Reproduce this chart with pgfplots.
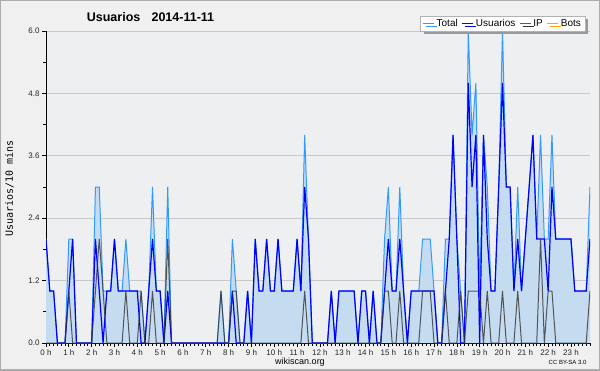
\documentclass[border=0pt]{standalone}
\usepackage{fontspec}
\setmainfont{Liberation Sans}
\setmonofont{DejaVu Sans Mono}
\usepackage{pgfplots}
\usepackage{pgfplotstable}
\pgfplotsset{compat=1.18}
\usetikzlibrary{shadows}
\definecolor{outerbg}{HTML}{F0F0F0}
\definecolor{plotbg}{HTML}{EDEFF1}
\definecolor{totline}{HTML}{3399FF}
\definecolor{totfill}{HTML}{C5DCF0}
\definecolor{usr}{HTML}{0000FF}
\definecolor{ipc}{HTML}{333333}
\definecolor{bots}{HTML}{FFA500}
\definecolor{gridc}{HTML}{C8C8C8}

\pgfplotstableread{
i T U IP
0 2 2 0
1 1 1 0
2 1 1 0
3 0 0 0
4 0 0 0
5 0 0 0
6 2 1 1
7 2 2 0
8 0 0 0
9 0 0 0
10 0 0 0
11 0 0 0
12 0 0 0
13 3 2 1
14 3 1 2
15 1 0 1
16 1 1 0
17 1 1 0
18 2 2 0
19 1 1 0
20 1 1 0
21 2 1 1
22 1 1 0
23 1 1 0
24 1 1 0
25 1 0 1
26 0 0 0
27 1 1 0
28 3 2 1
29 1 1 0
30 1 1 0
31 0 0 0
32 3 1 2
33 0 0 0
34 0 0 0
35 0 0 0
36 0 0 0
37 0 0 0
38 0 0 0
39 0 0 0
40 0 0 0
41 0 0 0
42 0 0 0
43 0 0 0
44 0 0 0
45 0 0 0
46 1 0 1
47 0 0 0
48 0 0 0
49 2 1 1
50 1 0 1
51 0 0 0
52 0 0 0
53 1 1 0
54 0 0 0
55 2 2 0
56 1 1 0
57 1 1 0
58 2 2 0
59 1 1 0
60 1 1 0
61 2 2 0
62 1 1 0
63 1 1 0
64 1 1 0
65 1 1 0
66 2 2 0
67 1 1 0
68 4 3 1
69 2 2 0
70 0 0 0
71 0 0 0
72 0 0 0
73 0 0 0
74 0 0 0
75 1 1 0
76 0 0 0
77 1 1 0
78 1 1 0
79 1 1 0
80 1 1 0
81 1 1 0
82 0 0 0
83 1 1 0
84 1 1 0
85 0 0 0
86 1 1 0
87 0 0 0
88 0 0 0
89 2 1 1
90 3 2 1
91 1 1 0
92 1 1 0
93 3 2 1
94 1 1 0
95 0 0 0
96 1 1 0
97 1 1 0
98 1 1 0
99 2 1 1
100 2 1 1
101 2 1 1
102 1 1 0
103 0 0 0
104 0 0 0
105 2 1 1
106 2 2 0
107 4 4 0
108 2 2 0
109 1 0 1
110 0 0 0
111 6 5 1
112 4 3 1
113 5 4 1
114 1 0 1
115 4 4 0
116 3 2 1
117 1 1 0
118 1 1 0
119 3 3 0
120 6 5 1
121 3 3 0
122 3 3 0
123 1 1 0
124 3 2 1
125 1 1 0
126 2 2 0
127 3 3 0
128 4 4 0
129 2 2 0
130 4 2 2
131 2 2 0
132 2 1 1
133 4 3 1
134 2 2 0
135 2 2 0
136 2 2 0
137 2 2 0
138 2 2 0
139 1 1 0
140 1 1 0
141 1 1 0
142 1 1 0
143 3 2 1
}\data

\begin{document}
\begin{tikzpicture}[x=1pt,y=1pt]
\useasboundingbox (0,0) rectangle (600,370);
\fill[outerbg] (0,0) rectangle (600,370);
\draw[gray!65, line width=2pt] (0,0) rectangle (600,370);
\begin{axis}[
  at={(46pt,27pt)}, anchor=south west, scale only axis,
  width=544pt, height=312pt,
  xmin=0, xmax=143, ymin=0, ymax=6,
  axis x line*=bottom, axis y line*=left,
  axis line style={black, line width=0.9pt, -},
  axis background/.style={fill=plotbg},
  ytick={0,1.2,2.4,3.6,4.8,6.0},
  minor ytick={0.6,1.8,3.0,4.2,5.4},
  ymajorgrids, major grid style={gridc, line width=0.7pt},
  /pgf/number format/assume math mode=true,
  /pgf/number format/fixed, /pgf/number format/fixed zerofill,
  /pgf/number format/precision=1,
  xtick={0,6,...,138},
  xticklabels={0 h,1 h,2 h,3 h,4 h,5 h,6 h,7 h,8 h,9 h,10 h,11 h,12 h,13 h,14 h,15 h,16 h,17 h,18 h,19 h,20 h,21 h,22 h,23 h},
  minor xtick={0,1,...,143},
  tick align=outside, major tick length=4pt, minor tick length=3pt,
  every tick/.style={black, line width=0.7pt},
  ticklabel style={font=\fontsize{8}{9}\selectfont, color=black!85},
  yticklabel style={xshift=1pt},
  xticklabel style={yshift=1pt},
  legend columns=4,
  legend style={at={(0.991,1.048)}, anchor=north east,
    font=\fontsize{10}{11}\selectfont, draw=gray!60, fill=white,
    inner xsep=2pt, inner ysep=1pt,
    drop shadow={shadow xshift=3pt, shadow yshift=-3pt, fill=gray!80, opacity=1},
    /tikz/every even column/.style={column sep=2pt}},
  legend image code/.code={\draw[#1] (0pt,0pt) -- (11pt,0pt);},
]
\addplot[fill=totfill, draw=none, forget plot] table[x=i, y=T] {\data} \closedcycle;
\addplot[totline, line width=1pt] table[x=i, y=T] {\data};
\addlegendentry{Total}
\addplot[usr, line width=1.2pt] table[x=i, y=U] {\data};
\addlegendentry{Usuarios}
\addplot[ipc, line width=1pt, opacity=0.8] table[x=i, y=IP] {\data};
\addlegendentry{IP}
\addlegendimage{bots, line width=1pt}
\addlegendentry{Bots}
\end{axis}
\node at (150.5,353) {\bfseries\fontsize{12.5}{14}\selectfont Usuarios\hspace{0.9em}2014-11-11};
\node[rotate=90] at (9.5,181.5) {\ttfamily\fontsize{10}{12}\selectfont Usuarios/10 mins};
\node at (300,8) {\fontsize{9}{10}\selectfont wikiscan.org};
\node[anchor=east] at (590,8) {\fontsize{6}{7}\selectfont CC BY-SA 3.0};
\end{tikzpicture}
\end{document}
